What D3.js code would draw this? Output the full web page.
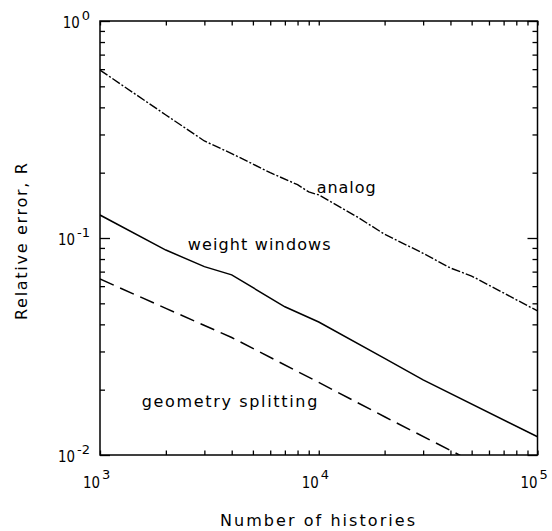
<!DOCTYPE html>
<html>
<head>
<meta charset="utf-8">
<script src="https://cdn.jsdelivr.net/npm/d3@7"></script>
<style>
body { margin: 0; background: #fff; }
text { font-family: "DejaVu Sans", sans-serif; fill: #000; }
</style>
</head>
<body>
<div id="root"></div>
<script>
//DATA
const xTicks = [1e3, 1e4, 1e5];
const xTickExp = ["3", "4", "5"];
const yTicks = [1e-2, 1e-1, 1e0];
const yTickExp = ["-2", "-1", "0"];

const analogN = [1000, 2000, 3000, 4000, 6000, 8000, 9000, 10000, 15000, 20000, 30000, 40000, 50000, 70000, 100000];
const analogR = [0.594, 0.369, 0.28, 0.245, 0.2, 0.176, 0.163, 0.158, 0.125, 0.104, 0.085, 0.0727, 0.0668, 0.0558, 0.0461];

const windowsN = [1000, 2000, 3000, 4000, 7000, 10000, 20000, 30000, 100000];
const windowsR = [0.1276, 0.088, 0.0738, 0.0676, 0.0482, 0.041, 0.0279, 0.0222, 0.01214];

const splitN = [1000, 2000, 4000, 10000, 20000, 40000, 60000];
const splitR = [0.0647, 0.0474, 0.0348, 0.0216, 0.0150, 0.0105, 0.0085];

const labels = ["analog", "weight windows", "geometry splitting"];

//DIMENSIONS
let width = 552, height = 531;
let margin = {top: 21, right: 14.5, bottom: 76, left: 100};
let w = width - margin.left - margin.right;
let h = height - margin.top - margin.bottom;

//CREATE SVG
let svg = d3.select('#root')
.append("svg")
.attr('width', width)
.attr('height', height);

let g = svg.append('g')
.attr('transform', `translate(${margin.left},${margin.top})`);

//SCALES
const x = d3.scaleLog().domain([1e3, 1e5]).range([0, w]);
const y = d3.scaleLog().domain([1e-2, 1e0]).range([h, 0]);

//CLIP
svg.append('defs').append('clipPath').attr('id', 'clip')
.append('rect').attr('width', w).attr('height', h);

//TICKS (inward, on all four sides)
const minorX = x.ticks().filter(d => !xTicks.includes(d));
const minorY = y.ticks().filter(d => !yTicks.includes(d));
const allX = minorX.concat(xTicks);

g.append('g').call(d3.axisBottom(x).tickValues(allX).tickSize(-4.5).tickFormat(''))
.attr('transform', `translate(0,${h})`);
g.append('g').call(d3.axisTop(x).tickValues(allX).tickSize(-4.5).tickFormat(''));
g.append('g').call(d3.axisLeft(y).tickValues(minorY).tickSize(-5).tickFormat(''));
g.append('g').call(d3.axisLeft(y).tickValues(yTicks).tickSize(-10).tickFormat(''));
g.append('g').call(d3.axisRight(y).tickValues(minorY).tickSize(-5).tickFormat(''))
.attr('transform', `translate(${w},0)`);
g.append('g').call(d3.axisRight(y).tickValues(yTicks).tickSize(-10).tickFormat(''))
.attr('transform', `translate(${w},0)`);

g.selectAll('.domain').remove();
g.selectAll('.tick line').attr('stroke', '#000').attr('stroke-width', 1.3);

//FRAME
g.append('rect')
.attr('width', w).attr('height', h)
.attr('fill', 'none').attr('stroke', '#000').attr('stroke-width', 1.5);

//TICK LABELS - X
g.selectAll('.xbase').data(xTicks).enter().append('text')
.attr('x', d => x(d) - 17)
.attr('y', h + 33)
.attr('font-size', 16)
.attr('textLength', 17).attr('lengthAdjust', 'spacingAndGlyphs')
.text('10');

g.selectAll('.xexp').data(xTickExp).enter().append('text')
.attr('x', (d, i) => x(xTicks[i]) + 2)
.attr('y', h + 24)
.attr('font-size', 13)
.text(d => d);

//TICK LABELS - Y
g.selectAll('.yexp').data(yTickExp).enter().append('text')
.attr('class', 'yexp')
.attr('x', -10)
.attr('y', (d, i) => y(yTicks[i]) - 1)
.attr('text-anchor', 'end')
.attr('font-size', 13)
.text(d => d);

const expW = [];
g.selectAll('.yexp').each(function() { expW.push(this.getComputedTextLength()); });

g.selectAll('.ybase').data(yTicks).enter().append('text')
.attr('x', (d, i) => -12 - expW[i] - 17)
.attr('y', d => y(d) + 7)
.attr('font-size', 16)
.attr('textLength', 17).attr('lengthAdjust', 'spacingAndGlyphs')
.text('10');

//AXIS TITLES
svg.append('text')
.attr('x', 220).attr('y', 526)
.attr('font-size', 16)
.attr('textLength', 195).attr('lengthAdjust', 'spacing')
.text('Number of histories');

svg.append('text')
.attr('transform', 'translate(27,320) rotate(-90)')
.attr('font-size', 16)
.attr('textLength', 157).attr('lengthAdjust', 'spacing')
.text('Relative error, R');

//LINES
const line = d3.line()
.x(d => x(d[0]))
.y(d => y(d[1]));

const lines = g.append('g').attr('clip-path', 'url(#clip)');

lines.append('path')
.datum(d3.zip(analogN, analogR))
.attr('fill', 'none').attr('stroke', '#000').attr('stroke-width', 1.4)
.attr('stroke-dasharray', '9,2,2,2')
.attr('d', line);

lines.append('path')
.datum(d3.zip(windowsN, windowsR))
.attr('fill', 'none').attr('stroke', '#000').attr('stroke-width', 1.5)
.attr('d', line);

lines.append('path')
.datum(d3.zip(splitN, splitR))
.attr('fill', 'none').attr('stroke', '#000').attr('stroke-width', 1.5)
.attr('stroke-dasharray', '15,7')
.attr('d', line);

//LINE LABELS
const labelPos = [[316.7, 192.5, 59], [187.7, 250, 143], [141.7, 407, 175.6]];
svg.selectAll('.lbl').data(labels).enter().append('text')
.attr('x', (d, i) => labelPos[i][0])
.attr('y', (d, i) => labelPos[i][1])
.attr('font-size', 16)
.attr('textLength', (d, i) => labelPos[i][2]).attr('lengthAdjust', 'spacing')
.text(d => d);
</script>
</body>
</html>
